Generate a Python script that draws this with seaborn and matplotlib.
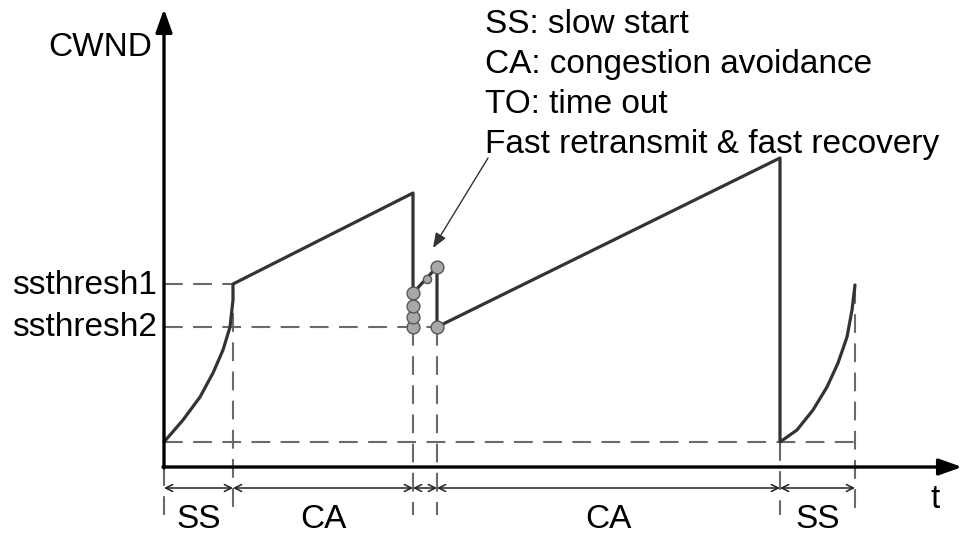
import numpy as np
import pandas as pd
import seaborn as sns
import matplotlib.pyplot as plt

# CWND trace (time units, window units)
ss1_t = [0.0, 1.9, 3.6, 4.9, 5.9, 6.6, 6.9, 6.9]
ss1_w = [2.5, 4.7, 7.0, 9.4, 11.7, 14.0, 16.7, 18.3]
ca1_t = [6.9, 24.9]
ca1_w = [18.3, 27.4]
fr_t = [24.9, 24.9, 27.3, 27.3]
fr_w = [14.0, 17.4, 20.0, 14.0]
ca2_t = [27.3, 61.6]
ca2_w = [14.0, 30.9]
ss2_t = [61.6, 61.6, 63.3, 64.9, 66.3, 67.4, 68.3, 68.8, 69.1]
ss2_w = [30.9, 2.5, 3.7, 5.7, 8.0, 10.4, 13.0, 15.7, 18.2]

# duplicate acks / fast recovery markers
dot_t = [24.9, 24.9, 24.9, 24.9, 27.3, 27.3]
dot_w = [14.0, 15.0, 16.1, 17.4, 20.0, 14.0]

ssthresh1 = 18.3
ssthresh2 = 14.0
w_low = 2.5

# phases along the time axis
bounds = [0.0, 6.9, 24.9, 27.3, 61.6, 69.1]
phase_labels = ["SS", "CA", "", "CA", "SS"]

legend_lines = ["SS: slow start", "CA: congestion avoidance",
                "TO: time out", "Fast retransmit & fast recovery"]

df = pd.DataFrame({
    "t": ss1_t + ca1_t + fr_t + ca2_t + ss2_t,
    "cwnd": ss1_w + ca1_w + fr_w + ca2_w + ss2_w,
})

sns.set_style("white")
plt.rcParams['font.family'] = ['Liberation Sans', 'DejaVu Sans']
plt.rcParams['text.color'] = 'black'

fig = plt.figure(figsize=(9.66, 5.4), dpi=100)
ax = fig.add_axes([0, 0, 1, 1])
# pixel-ish frame: 10 px per unit, origin at (164, 467)
ax.set_xlim(-16.4, 80.2)
ax.set_ylim(-7.3, 46.7)
ax.axis('off')

dash = dict(color='#6a6a6a', lw=1.5, linestyle=(0, (9.0, 5.0)))
ax.plot([0, bounds[1]], [ssthresh1, ssthresh1], **dash)
ax.plot([0, bounds[3]], [ssthresh2, ssthresh2], **dash)
ax.plot([0, bounds[5]], [w_low, w_low], **dash)
ax.plot([bounds[1], bounds[1]], [ssthresh1, -4.8], **dash)
ax.plot([bounds[2], bounds[2]], [ssthresh2, -4.8], **dash)
ax.plot([bounds[3], bounds[3]], [ssthresh2, -4.8], **dash)
ax.plot([bounds[4], bounds[4]], [w_low, -4.8], **dash)
ax.plot([bounds[5], bounds[5]], [ss2_w[-1], -4.8], **dash)
ax.plot([0, 0], [0, -4.8], **dash)

sns.lineplot(data=df, x="t", y="cwnd", sort=False, estimator=None,
             color='#333333', lw=2.3, ax=ax)
sns.scatterplot(x=dot_t, y=dot_w, ax=ax, s=85, marker='o',
                color='#a8a8a8', edgecolor='#555555', linewidth=1.0, zorder=5)
ax.scatter([26.3], [18.8], s=35, color='#a8a8a8', edgecolor='#555555',
           linewidth=1.0, zorder=5)

# axes with arrow heads
ax.annotate('', xy=(0, 45.8), xytext=(0, -0.1),
            arrowprops=dict(arrowstyle='-|>,head_length=1.4,head_width=0.5',
                            color='black', lw=2.4, shrinkA=0, shrinkB=0))
ax.annotate('', xy=(79.8, 0), xytext=(-0.1, 0),
            arrowprops=dict(arrowstyle='-|>,head_length=1.4,head_width=0.5',
                            color='black', lw=2.4, shrinkA=0, shrinkB=0))

# phase arrows and labels
for a, b, lab in zip(bounds[:-1], bounds[1:], phase_labels):
    ax.annotate('', xy=(b, -2.1), xytext=(a, -2.1),
                arrowprops=dict(arrowstyle='<->,head_length=0.5,head_width=0.25',
                                color='#222222', lw=1.1, shrinkA=0, shrinkB=0))
    if lab:
        ax.text((a + b) / 2, -5.3, lab, fontsize=24, ha='center', va='center')

ax.text(77.1, -3.2, "t", fontsize=24, ha='center', va='center')
ax.text(-1.2, 42.0, "CWND", fontsize=24, ha='right', va='center')
ax.text(-0.7, ssthresh1 - 0.1, "ssthresh1", fontsize=24, ha='right', va='center')
ax.text(-0.7, ssthresh2 - 0.1, "ssthresh2", fontsize=24, ha='right', va='center')

for i, line in enumerate(legend_lines):
    ax.text(32.1, 43.4 - 4.0 * i, line, fontsize=24, ha='left', va='baseline')

ax.annotate('', xy=(26.9, 21.9), xytext=(32.4, 30.9),
            arrowprops=dict(arrowstyle='-|>,head_length=0.9,head_width=0.35',
                            color='#333333', lw=1.0, shrinkA=0, shrinkB=0))

fig.savefig('out.png', dpi=100)
